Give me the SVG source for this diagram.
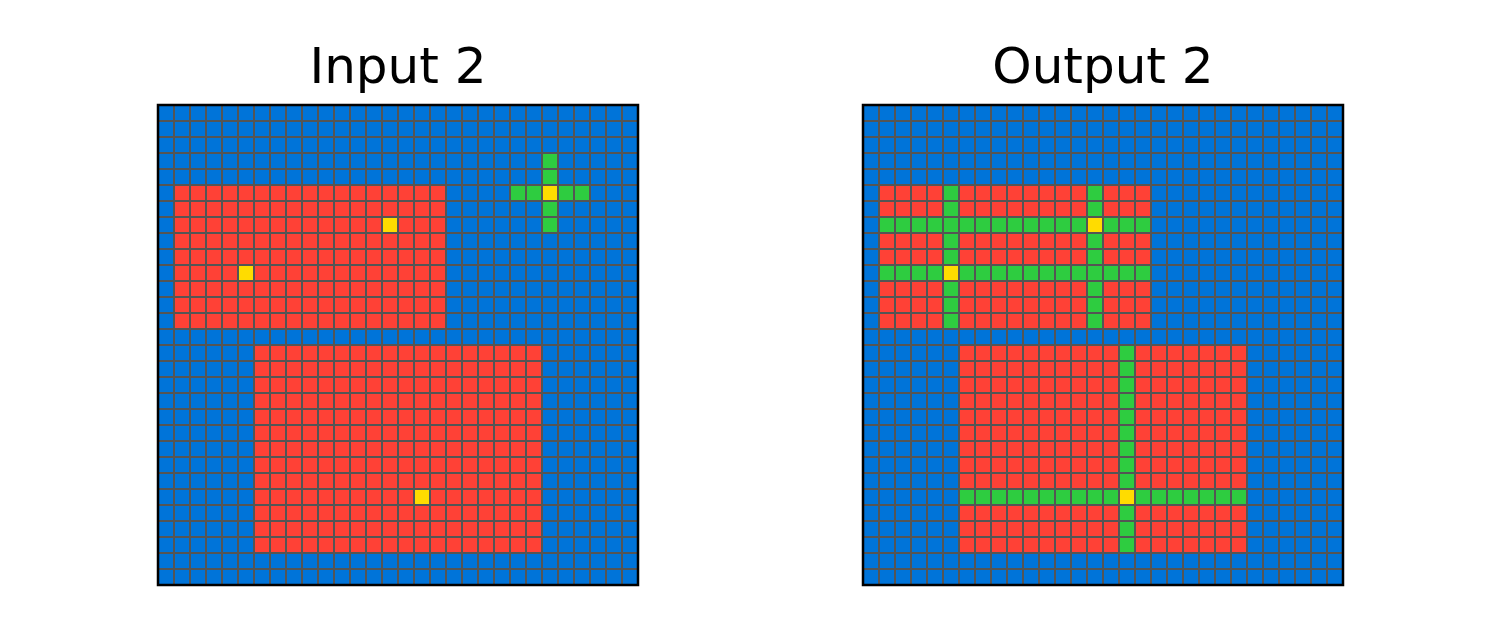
<svg xmlns="http://www.w3.org/2000/svg" width="1500" height="629" viewBox="0 0 1500 629">
<style>
.title{font-family:"DejaVu Sans",sans-serif;font-size:50px;fill:#000;text-anchor:middle}
.b{fill:#0074D9}.r{fill:#FF4136}.g{fill:#2ECC40}.y{fill:#FFDC00}
.frame{fill:none;stroke:#000;stroke-width:2.5}
</style>
<defs>
<pattern id="gl" patternUnits="userSpaceOnUse" x="0" y="1" width="16" height="16">
<rect x="0" y="0" width="1" height="16" fill="#555555"/>
<rect x="15" y="0" width="1" height="16" fill="#555555"/>
<rect x="0" y="0" width="16" height="1" fill="#555555"/>
<rect x="0" y="15" width="16" height="1" fill="#555555"/>
</pattern>
<pattern id="gl2" patternUnits="userSpaceOnUse" x="863" y="105" width="16" height="16">
<rect x="0" y="0" width="1" height="16" fill="#555555"/>
<rect x="15" y="0" width="1" height="16" fill="#555555"/>
<rect x="0" y="0" width="16" height="1" fill="#555555"/>
<rect x="0" y="15" width="16" height="1" fill="#555555"/>
</pattern>
<pattern id="gl1" patternUnits="userSpaceOnUse" x="158" y="105" width="16" height="16">
<rect x="0" y="0" width="1" height="16" fill="#555555"/>
<rect x="15" y="0" width="1" height="16" fill="#555555"/>
<rect x="0" y="0" width="16" height="1" fill="#555555"/>
<rect x="0" y="15" width="16" height="1" fill="#555555"/>
</pattern>
</defs>
<g id="input">
<text class="title" x="398" y="83">Input 2</text>
<g transform="translate(158,105)">
<rect class="b" x="0" y="0" width="480" height="480"/>
<rect class="r" x="16" y="80" width="272" height="144"/>
<rect class="r" x="96" y="240" width="288" height="208"/>
<rect class="y" x="224" y="112" width="16" height="16"/>
<rect class="y" x="80" y="160" width="16" height="16"/>
<rect class="y" x="256" y="384" width="16" height="16"/>
<rect class="g" x="384" y="48" width="16" height="80"/>
<rect class="g" x="352" y="80" width="80" height="16"/>
<rect class="y" x="384" y="80" width="16" height="16"/>
</g>
<rect x="158" y="105" width="480" height="480" fill="url(#gl1)"/>
<rect class="frame" x="158" y="105" width="480" height="480"/>
</g>
<g id="output">
<text class="title" x="1103" y="83">Output 2</text>
<g transform="translate(863,105)">
<rect class="b" x="0" y="0" width="480" height="480"/>
<rect class="r" x="16" y="80" width="272" height="144"/>
<rect class="r" x="96" y="240" width="288" height="208"/>
<rect class="g" x="16" y="112" width="272" height="16"/>
<rect class="g" x="16" y="160" width="272" height="16"/>
<rect class="g" x="80" y="80" width="16" height="144"/>
<rect class="g" x="224" y="80" width="16" height="144"/>
<rect class="g" x="96" y="384" width="288" height="16"/>
<rect class="g" x="256" y="240" width="16" height="208"/>
<rect class="y" x="224" y="112" width="16" height="16"/>
<rect class="y" x="80" y="160" width="16" height="16"/>
<rect class="y" x="256" y="384" width="16" height="16"/>
</g>
<rect x="863" y="105" width="480" height="480" fill="url(#gl2)"/>
<rect class="frame" x="863" y="105" width="480" height="480"/>
</g>
<g id="connectors"/>
</svg>
